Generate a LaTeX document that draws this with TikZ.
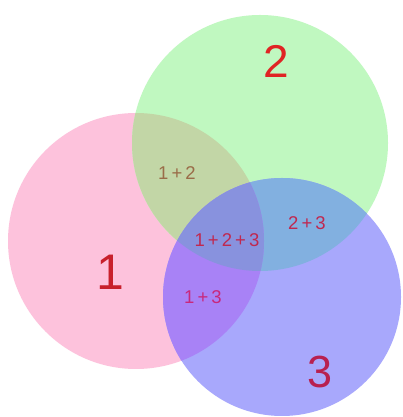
\documentclass[tikz,border=0pt]{standalone}
\usepackage{fontspec}
\setmainfont{Liberation Sans}
\definecolor{cpink}{HTML}{FDC2DC}
\definecolor{cgreen}{HTML}{C0F8C0}
\definecolor{cblue}{HTML}{A8A8FC}
\definecolor{cot}{HTML}{C2D6A6}
\definecolor{ctt}{HTML}{82B0E0}
\definecolor{cot3}{HTML}{A882F6}
\definecolor{call}{HTML}{8892DE}
\definecolor{bigred}{HTML}{C8202C}
\definecolor{twored}{HTML}{E02424}
\definecolor{threered}{HTML}{B82050}
\definecolor{smallred}{HTML}{C02850}
\definecolor{brownlab}{HTML}{9A6C48}
\definecolor{magentalab}{HTML}{C8287C}
\begin{document}
\begin{tikzpicture}[x=1pt,y=1pt,
  big/.style={text=bigred,font=\fontsize{50}{50}\selectfont},
  small/.style={text=smallred,font=\fontsize{18.5}{18.5}\selectfont}]
\useasboundingbox (0,0) rectangle (402,417);
\fill[white] (0,0) rectangle (402,417);
\def\cone{(136,176) circle (128)}
\def\ctwo{(260,274) circle (128)}
\def\cthree{(282,120) circle (119)}
\fill[cpink] \cone;
\fill[cgreen] \ctwo;
\fill[cblue] \cthree;
\begin{scope}\clip \cone; \fill[cot] \ctwo; \end{scope}
\begin{scope}\clip \ctwo; \fill[ctt] \cthree; \end{scope}
\begin{scope}\clip \cone; \fill[cot3] \cthree; \end{scope}
\begin{scope}\clip \cone; \clip \ctwo; \fill[call] \cthree; \end{scope}
\node[big] (l1) at (110,145) {1};
\node[big,font=\fontsize{46}{46}\selectfont,text=twored] (l2) at (276,356) {2};
\node[big,font=\fontsize{45}{45}\selectfont,text=threered] (l3) at (320,45) {3};
\node[small,text=brownlab] (l12) at (177,244) {1\,+\,2};
\node[small] (l23) at (307,194) {2\,+\,3};
\node[small] (l123) at (227,177) {1\,+\,2\,+\,3};
\node[small,text=magentalab] (l13) at (203,120) {1\,+\,3};
\end{tikzpicture}
\end{document}
